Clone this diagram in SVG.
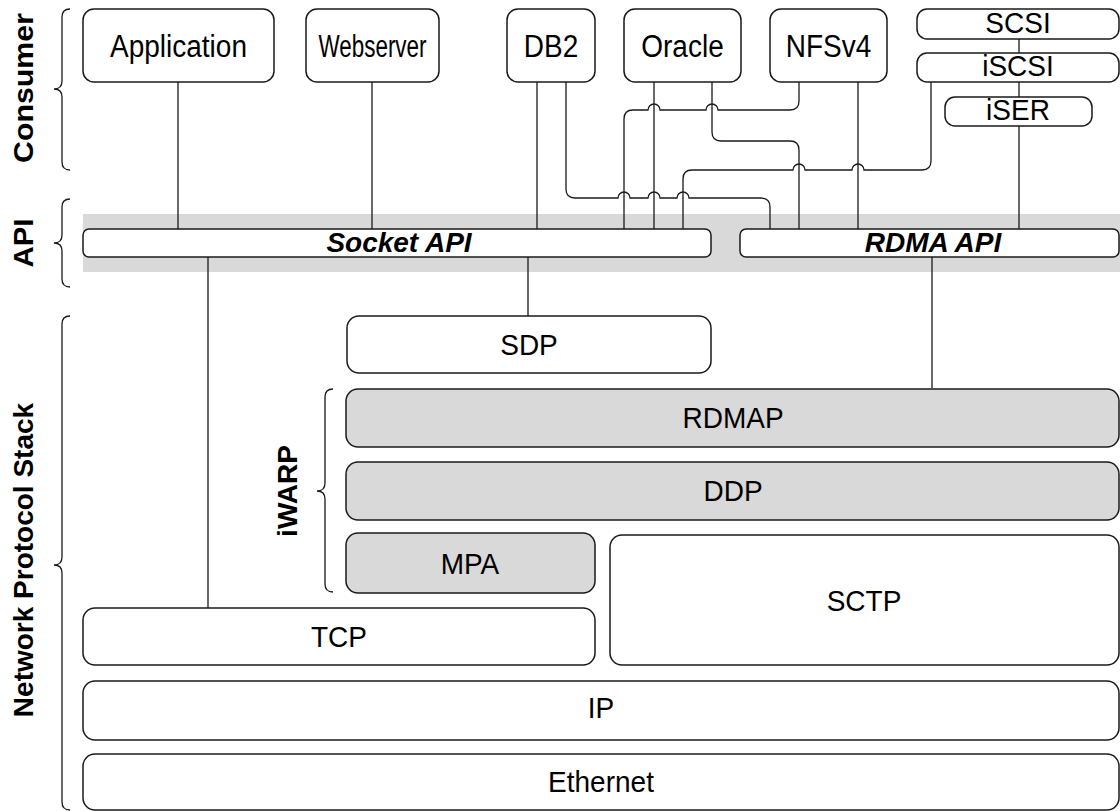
<svg xmlns="http://www.w3.org/2000/svg" width="1120" height="811" viewBox="0 0 1120 811">
  <style>
    .box { fill: #ffffff; stroke: #1a1a1a; stroke-width: 1.5; }
    .shade { fill: #d9d9d9; stroke: #1a1a1a; stroke-width: 1.5; }
    .wire { fill: none; stroke: #1a1a1a; stroke-width: 1.3; }
    .brace { fill: none; stroke: #1a1a1a; stroke-width: 1.3; }
    .lbl { font-family: "Liberation Sans", Arial, sans-serif; font-size: 28px; fill: #000; text-anchor: middle; }
    .api { font-weight: bold; font-style: italic; }
    .side { font-family: "Liberation Sans", Arial, sans-serif; font-size: 28px; font-weight: bold; fill: #000; text-anchor: middle; }
  </style>

  <!-- API band -->
  <rect id="api-band" x="83" y="214" width="1037" height="58" fill="#d9d9d9"/>

  <!-- group braces and labels -->
  <g id="side-labels">
    <path class="brace" d="M70,9 Q62,9 62,17 V81 Q62,89 54,89 Q62,89 62,97 V162 Q62,170 70,170"/>
    <text class="side" transform="translate(33,88) rotate(-90)" textLength="150" lengthAdjust="spacingAndGlyphs">Consumer</text>
    <path class="brace" d="M70,199 Q62,199 62,207 V235 Q62,243 54,243 Q62,243 62,251 V279 Q62,287 70,287"/>
    <text class="side" transform="translate(33,243) rotate(-90)" textLength="49" lengthAdjust="spacingAndGlyphs">API</text>
    <path class="brace" d="M70,316 Q62,316 62,324 V557 Q62,565 54,565 Q62,565 62,573 V802 Q62,810 70,810"/>
    <text class="side" transform="translate(33,560) rotate(-90)">Network Protocol Stack</text>
    <path class="brace" d="M333,389 Q325,389 325,397 V483 Q325,491 317,491 Q325,491 325,499 V584 Q325,592 333,592"/>
    <text class="side" transform="translate(297,491) rotate(-90)">iWARP</text>
  </g>

  <!-- connectors -->
  <g id="connectors">
    <path class="wire" d="M178,82 V229"/>
    <path class="wire" d="M372,82 V229"/>
    <path class="wire" d="M537,82 V229"/>
    <path class="wire" d="M654,82 V229"/>
    <path class="wire" d="M858,82 V229"/>
    <path class="wire" d="M1019,39 V53"/>
    <path class="wire" d="M1019,82 V97"/>
    <path class="wire" d="M1019,126 V229"/>
    <!-- DB2 to RDMA API -->
    <path class="wire" d="M566,82 V189 Q566,198 575,198 H618 A6,6 0 0 1 630,198 H648 A6,6 0 0 1 660,198 H677 A6,6 0 0 1 689,198 H761 Q770,198 770,207 V229"/>
    <!-- Oracle to RDMA API -->
    <path class="wire" d="M712,82 V132 Q712,141 721,141 H790 Q799,141 799,150 V229"/>
    <!-- NFSv4 to Socket API -->
    <path class="wire" d="M799,82 V101 Q799,110 790,110 H718 A6,6 0 0 0 706,110 H660 A6,6 0 0 0 648,110 H633 Q624,110 624,119 V229"/>
    <!-- iSCSI to Socket API -->
    <path class="wire" d="M931,82 V161 Q931,170 922,170 H864 A6,6 0 0 0 852,170 H805 A6,6 0 0 0 793,170 H692 Q683,170 683,179 V229"/>
    <!-- API to protocol stack -->
    <path class="wire" d="M208,257 V608"/>
    <path class="wire" d="M528,257 V316"/>
    <path class="wire" d="M932,257 V388"/>
  </g>

  <!-- consumers -->
  <g id="node-application"><rect class="box" x="83" y="9" width="191" height="73" rx="11"/><text class="lbl" transform="translate(178.5,56.5) scale(1,1.1)">Application</text></g>
  <g id="node-webserver"><rect class="box" x="306" y="9" width="133" height="73" rx="11"/><text class="lbl" transform="translate(372.5,56.5) scale(1,1.1)" textLength="108" lengthAdjust="spacingAndGlyphs">Webserver</text></g>
  <g id="node-db2"><rect class="box" x="507" y="9" width="88" height="73" rx="11"/><text class="lbl" transform="translate(551,56.5) scale(1,1.1)">DB2</text></g>
  <g id="node-oracle"><rect class="box" x="624" y="9" width="117" height="73" rx="11"/><text class="lbl" transform="translate(682.5,56.5) scale(1,1.1)">Oracle</text></g>
  <g id="node-nfsv4"><rect class="box" x="770" y="9" width="117" height="73" rx="11"/><text class="lbl" transform="translate(828.5,56.5) scale(1,1.1)">NFSv4</text></g>
  <g id="node-scsi"><rect class="box" x="917" y="9" width="202" height="30" rx="10"/><text class="lbl" transform="translate(1018,33) scale(1,1.03)">SCSI</text></g>
  <g id="node-iscsi"><rect class="box" x="917" y="53" width="202" height="29" rx="10"/><text class="lbl" transform="translate(1018,76) scale(1,1.03)">iSCSI</text></g>
  <g id="node-iser"><rect class="box" x="945" y="97" width="147" height="29" rx="10"/><text class="lbl" transform="translate(1018,120) scale(1,1.03)">iSER</text></g>

  <!-- APIs -->
  <g id="node-socket-api"><rect class="box" x="83" y="229" width="628" height="28" rx="6"/><text class="lbl api" x="399" y="252">Socket API</text></g>
  <g id="node-rdma-api"><rect class="box" x="740" y="229" width="379" height="28" rx="6"/><text class="lbl api" x="933" y="252">RDMA API</text></g>

  <!-- protocol stack -->
  <g id="node-sdp"><rect class="box" x="347" y="316" width="364" height="57" rx="12"/><text class="lbl" transform="translate(529,355) scale(1,1.06)">SDP</text></g>
  <g id="node-rdmap"><rect class="shade" x="346" y="389" width="773" height="58" rx="12"/><text class="lbl" transform="translate(733,428) scale(1,1.06)">RDMAP</text></g>
  <g id="node-ddp"><rect class="shade" x="346" y="462" width="773" height="58" rx="12"/><text class="lbl" transform="translate(733,501) scale(1,1.06)">DDP</text></g>
  <g id="node-mpa"><rect class="shade" x="346" y="533" width="249" height="60" rx="12"/><text class="lbl" transform="translate(470,574) scale(1,1.06)">MPA</text></g>
  <g id="node-sctp"><rect class="box" x="610" y="535" width="509" height="130" rx="12"/><text class="lbl" transform="translate(864,611) scale(1,1.06)">SCTP</text></g>
  <g id="node-tcp"><rect class="box" x="83" y="608" width="512" height="57" rx="12"/><text class="lbl" transform="translate(339,647) scale(1,1.06)">TCP</text></g>
  <g id="node-ip"><rect class="box" x="83" y="681" width="1036" height="59" rx="12"/><text class="lbl" transform="translate(601,718) scale(1,1.06)">IP</text></g>
  <g id="node-ethernet"><rect class="box" x="83" y="754" width="1036" height="56" rx="12"/><text class="lbl" transform="translate(601,792) scale(1,1.06)">Ethernet</text></g>
</svg>
